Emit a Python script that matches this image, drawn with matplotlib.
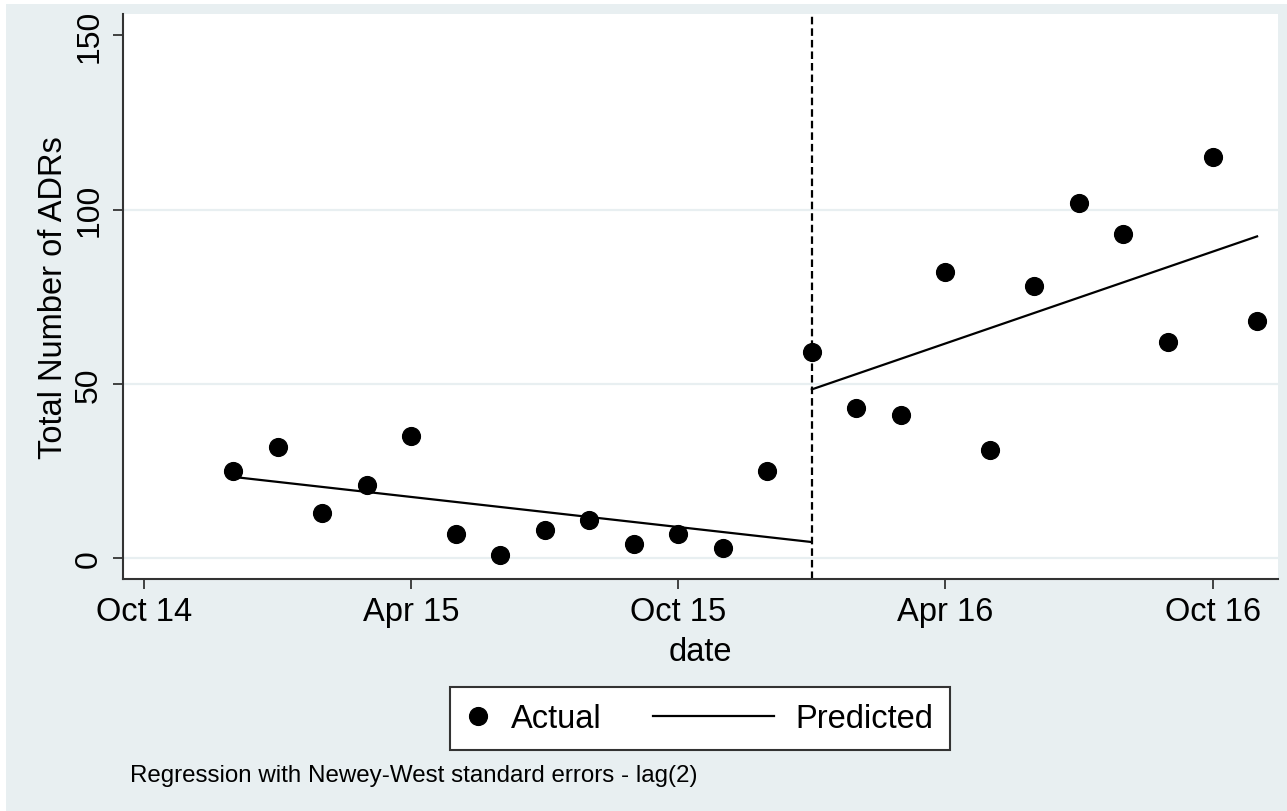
#ITS plot of ADR counts, actual vs predicted (Newey-West)
import pandas as pd
import numpy as np
import matplotlib
matplotlib.use('Agg')
import matplotlib.pyplot as plt
from matplotlib.lines import Line2D
from matplotlib.patches import Rectangle
from matplotlib.legend_handler import HandlerLine2D

plt.rcParams['font.family'] = ['Liberation Sans', 'DejaVu Sans']

# monthly data, Dec 2014 - Nov 2016
months = ['2014-12', '2015-01', '2015-02', '2015-03', '2015-04', '2015-05', '2015-06', '2015-07',
          '2015-08', '2015-09', '2015-10', '2015-11', '2015-12', '2016-01', '2016-02', '2016-03',
          '2016-04', '2016-05', '2016-06', '2016-07', '2016-08', '2016-09', '2016-10', '2016-11']
actual = [25, 32, 13, 21, 35, 7, 1, 8, 11, 4, 7, 3, 25, 59, 43, 41, 82, 31, 78, 102, 93, 62, 115, 68]
pre_months = ['2014-12', '2016-01']
pre_pred = [23.3, 4.6]
post_months = ['2016-01', '2016-11']
post_pred = [48.4, 92.3]
intervention = '2016-01'
xtick_months = ['2014-10', '2015-04', '2015-10', '2016-04', '2016-10']
yticks = [0, 50, 100, 150]

bg = '#e8eff1'
axcol = '#333333'

def tm(m):
    # month index like stata %tm
    return pd.Period(m, freq='M').ordinal

class LongLine(HandlerLine2D):
    #stata style: line key longer than marker key
    def create_artists(self, legend, orig_handle, xdescent, ydescent, width, height, fontsize, trans):
        y = (height - ydescent) / 2
        ln = Line2D([-xdescent - 3.0 * fontsize, width - xdescent], [y, y])
        self.update_prop(ln, orig_handle, legend)
        ln.set_transform(trans)
        return [ln]

fig = plt.figure(figsize=(12.87, 8.12), dpi=100)
fig.patch.set_facecolor('white')
fig.patches.append(Rectangle((6 / 1287, 0), 1, 1 - 5 / 812, transform=fig.transFigure,
                             facecolor=bg, edgecolor='none', zorder=-10))
ax = fig.add_axes([123 / 1287, 1 - 580 / 812, (1278 - 123) / 1287, (580 - 15) / 812])
ax.set_facecolor('white')

x = [tm(m) for m in months]
for g in yticks[:-1]:
    ax.axhline(g, color=bg, lw=1.6, zorder=0)
ax.axvline(tm(intervention), color='black', lw=1.6, dashes=(3.4, 1.8), zorder=1)
ax.plot([tm(m) for m in pre_months], pre_pred, color='black', lw=1.6, zorder=2)
ax.plot([tm(m) for m in post_months], post_pred, color='black', lw=1.6, zorder=2)
ax.plot(x, actual, 'o', color='black', ms=12.8, zorder=3)

ax.set_xlim(x[0] - 2.47, x[-1] + 0.47)
ax.set_ylim(-6.0, 156.1)
ax.set_yticks(yticks)
ax.set_yticklabels([str(v) for v in yticks], rotation=90, va='center', fontsize=23)
ax.set_xticks([tm(m) for m in xtick_months])
ax.set_xticklabels([pd.Period(m, freq='M').strftime('%b %y') for m in xtick_months], fontsize=23.5)
ax.tick_params(axis='both', length=7.5, width=1.3, color=axcol, labelcolor='black')
ax.tick_params(axis='x', pad=5)
ax.tick_params(axis='y', pad=6)
for s in ['top', 'right']:
    ax.spines[s].set_visible(False)
for s in ['left', 'bottom']:
    ax.spines[s].set_color(axcol)
    ax.spines[s].set_linewidth(1.5)

ax.set_xlabel('date', fontsize=23.5, labelpad=6)
ax.set_ylabel('Total Number of ADRs', fontsize=23.5, labelpad=4)

h_act = Line2D([], [], marker='o', ls='none', color='black', ms=12.8)
h_pred = Line2D([], [], color='black', lw=1.6)
leg = fig.legend([h_act, h_pred], ['Actual', 'Predicted'], loc='center', ncol=2,
                 bbox_to_anchor=(700 / 1287, 1 - 719.5 / 812), fontsize=23.5,
                 handlelength=0.7, handletextpad=0.65, columnspacing=4.6, borderpad=0.5,
                 fancybox=False, framealpha=1, edgecolor=axcol,
                 handler_map={h_pred: LongLine()})
leg.get_frame().set_linewidth(1.5)

fig.text(130 / 1287, 1 - 776 / 812, 'Regression with Newey-West standard errors - lag(2)',
         fontsize=17.4, ha='left', va='center')

fig.savefig('out.png', dpi=100, facecolor=fig.get_facecolor())
